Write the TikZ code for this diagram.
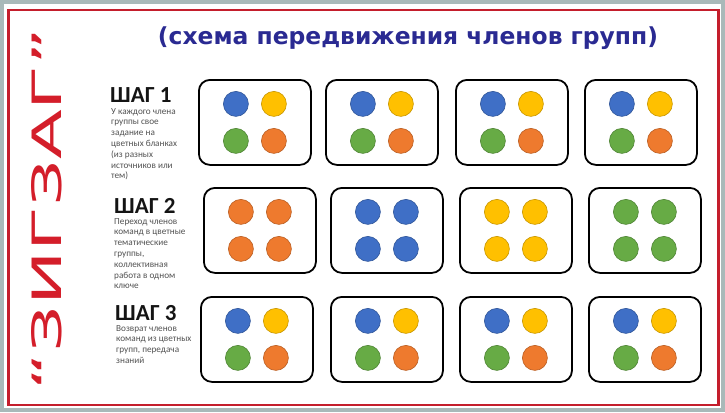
\documentclass[tikz,border=0pt]{standalone}
\usepackage{fontspec}
\setmainfont{Carlito}
\newfontfamily\djv{DejaVu Sans}
\usetikzlibrary{calc}
\definecolor{bgray}{HTML}{A9B9B9}
\definecolor{fred}{HTML}{C41E2C}
\definecolor{zred}{HTML}{D41E2A}
\definecolor{tblue}{HTML}{2A2A92}
\definecolor{cblue}{HTML}{3F6FC6}
\definecolor{cyel}{HTML}{FFC000}
\definecolor{cgreen}{HTML}{67AB45}
\definecolor{corange}{HTML}{EE7A2E}
\newcommand\mkgroup[7]{%
  \node[grpbox] (#1) at (#2,#3) {};
  \node[dot=#4] (#1a) at ($(#1.center)+(-19,-18.5)$) {};
  \node[dot=#5] (#1b) at ($(#1.center)+(19,-18.5)$) {};
  \node[dot=#6] (#1c) at ($(#1.center)+(-19,18.5)$) {};
  \node[dot=#7] (#1d) at ($(#1.center)+(19,18.5)$) {};
}
\begin{document}
\begin{tikzpicture}[x=1pt,y=-1pt,
  grpbox/.style={draw=black, line width=1.8pt, rounded corners=11pt,
    minimum width=112pt, minimum height=85pt, anchor=north west,
    inner sep=0pt, fill=white},
  dot/.style={circle, minimum size=25pt, inner sep=0pt, fill=#1,
    draw=#1!78!black, line width=0.6pt},
  head/.style={anchor=base west, inner sep=0pt,
    font=\bfseries\fontsize{23}{23}\selectfont, text=black!92},
  desc/.style={anchor=north west, align=left, inner sep=0pt,
    font=\fontsize{9.2}{10.8}\selectfont, text=black!68}]
\useasboundingbox (0,0) rectangle (725,412);
\fill[bgray] (0,0) rectangle (725,412);
\fill[white] (4,4) rectangle (721,408);
\draw[fred, line width=2.5pt] (8.5,10) rectangle (718.5,405);

\node[rotate=90, text=zred, inner sep=0pt] (zig) at (47,209)
  {\resizebox{362pt}{30pt}{\djv “ЗИГЗАГ”}};

\node[text=tblue, inner sep=0pt] (title) at (408,38)
  {\resizebox{500pt}{!}{\djv\bfseries (схема передвижения членов групп)}};

\node[head] (h1) at (110,102) {ШАГ 1};
\node[desc] (d1) at (111,108) {У каждого члена\\группы свое\\задание на\\цветных бланках\\(из разных\\источников или\\тем)};
\node[head] (h2) at (114,213) {ШАГ 2};
\node[desc] (d2) at (114,218) {Переход членов\\команд в цветные\\тематические\\группы,\\коллективная\\работа в одном\\ключе};
\node[head] (h3) at (115,320) {ШАГ 3};
\node[desc] (d3) at (116,325) {Возврат членов\\команд из цветных\\групп, передача\\знаний};

\mkgroup{ga}{198}{79}{cblue}{cyel}{cgreen}{corange}
\mkgroup{gb}{325}{79}{cblue}{cyel}{cgreen}{corange}
\mkgroup{gc}{455}{79}{cblue}{cyel}{cgreen}{corange}
\mkgroup{gd}{584}{79}{cblue}{cyel}{cgreen}{corange}

\mkgroup{ha}{203}{187}{corange}{corange}{corange}{corange}
\mkgroup{hb}{330}{187}{cblue}{cblue}{cblue}{cblue}
\mkgroup{hc}{459}{187}{cyel}{cyel}{cyel}{cyel}
\mkgroup{hd}{588}{187}{cgreen}{cgreen}{cgreen}{cgreen}

\mkgroup{ka}{200}{296}{cblue}{cyel}{cgreen}{corange}
\mkgroup{kb}{330}{296}{cblue}{cyel}{cgreen}{corange}
\mkgroup{kc}{459}{296}{cblue}{cyel}{cgreen}{corange}
\mkgroup{kd}{588}{296}{cblue}{cyel}{cgreen}{corange}
\end{tikzpicture}
\end{document}
